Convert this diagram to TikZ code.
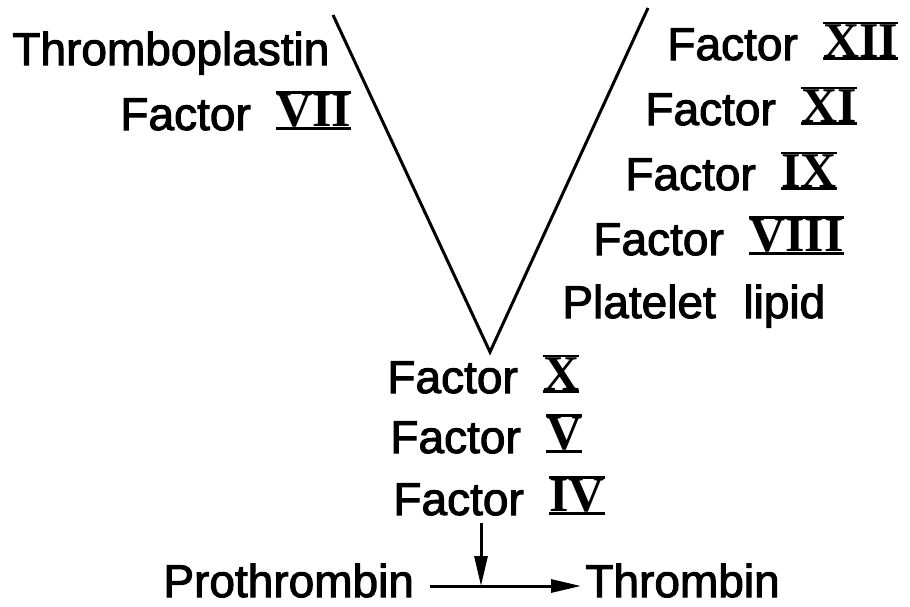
\documentclass[tikz,border=0pt]{standalone}
\usepackage{fontspec}
\setmainfont{Liberation Sans}
\newfontfamily\lblfont{Liberation Sans}[RawFeature={embolden=2.2}]
\newfontfamily\rnfont{Liberation Serif}
\usetikzlibrary{arrows.meta}
% roman numeral with the bars on top and bottom
\newcommand{\rnum}[1]{\vbox{\hrule height 1.4pt\hbox{\fontsize{25}{28}\rnfont\bfseries #1}\hrule height 1.4pt}}
\newcommand{\fac}[1]{Factor\hspace{0.55em}\rnum{#1}}
\tikzset{
  lbl/.style={anchor=base west, inner sep=0pt, font=\fontsize{23}{26}\lblfont},
  vline/.style={line width=1.5pt},
  rxn/.style={-{Triangle[length=15pt,width=6.5pt]}, line width=1.5pt}
}
\begin{document}
\begin{tikzpicture}[x=0.5pt, y=-0.5pt]
  \useasboundingbox (0,0) rectangle (910,606);

  % the V
  \coordinate (vtop1) at (333,15);
  \coordinate (vtop2) at (648,8);
  \coordinate (vtip) at (490,352);
  \draw[vline, line join=miter] (vtop1) -- (vtip) -- (vtop2);

  % left arm
  \node[lbl] (thromboplastin) at (12,65) {Thromboplastin};
  \node[lbl] (f7) at (120,130) {\fac{VII}};

  % right arm
  \node[lbl] (f12) at (667,60) {\fac{XII}};
  \node[lbl] (f11) at (645,125) {\fac{XI}};
  \node[lbl] (f9) at (625,190) {\fac{IX}};
  \node[lbl] (f8) at (593,255) {\fac{VIII}};
  \node[lbl] (lipid) at (562,318) {Platelet\hspace{0.6em}lipid};

  % below the tip
  \node[lbl] (f10) at (387,393) {\fac{X}};
  \node[lbl] (f5) at (390,453) {\fac{V}};
  \node[lbl] (f4) at (393,515) {\fac{IV}};

  % prothrombin -> thrombin
  \node[lbl] (prothrombin) at (163,597) {Prothrombin};
  \node[lbl] (thrombin) at (585,597) {Thrombin};
  \coordinate (junc) at (481,586);
  \coordinate (ftop) at (481,523);
  \draw[rxn, shorten <=8pt, shorten >=2pt] (prothrombin.east |- junc) -- (thrombin.west |- junc);
  \draw[rxn] (ftop) -- (junc);
\end{tikzpicture}
\end{document}
